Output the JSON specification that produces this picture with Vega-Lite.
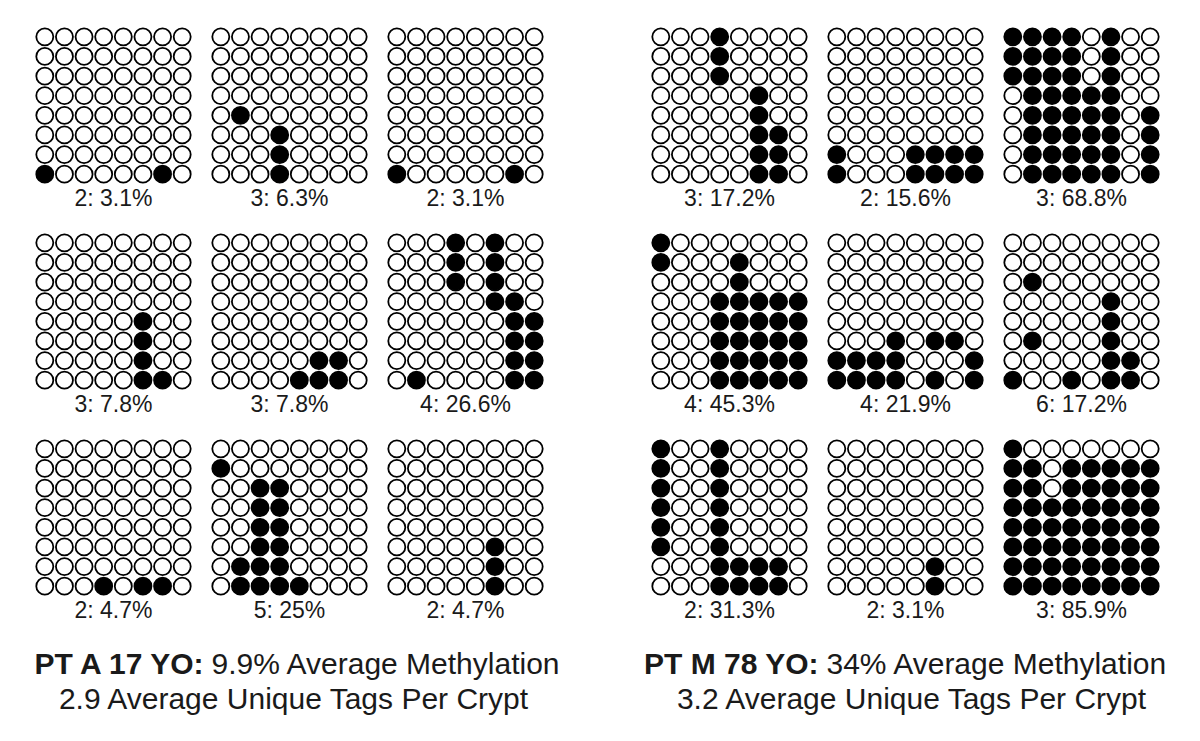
{
"$schema": "https://vega.github.io/schema/vega-lite/v6.json",
"padding": {"left": 31, "top": 24, "right": 0, "bottom": 0},
"background": "white",
"config": {"view": {"stroke": null}, "font": "Liberation Sans"},
"spacing": 81,
"datasets": {
"panels": [
{"g":"a","side":"A","key":"1|2: 3.1%"},{"g":"b","side":"A","key":"2|3: 6.3%"},{"g":"c","side":"A","key":"3|2: 3.1%"},
{"g":"d","side":"A","key":"4|3: 7.8%"},{"g":"e","side":"A","key":"5|3: 7.8%"},{"g":"f","side":"A","key":"6|4: 26.6%"},
{"g":"g","side":"A","key":"7|2: 4.7%"},{"g":"h","side":"A","key":"8|5: 25%"},{"g":"i","side":"A","key":"9|2: 4.7%"},
{"g":"j","side":"M","key":"1|3: 17.2%"},{"g":"k","side":"M","key":"2|2: 15.6%"},{"g":"l","side":"M","key":"3|3: 68.8%"},
{"g":"m","side":"M","key":"4|4: 45.3%"},{"g":"n","side":"M","key":"5|4: 21.9%"},{"g":"o","side":"M","key":"6|6: 17.2%"},
{"g":"p","side":"M","key":"7|2: 31.3%"},{"g":"q","side":"M","key":"8|2: 3.1%"},{"g":"r","side":"M","key":"9|3: 85.9%"}
],
"notes": [
{"side":"A","part":"b","line":1,"t":"PT A 17 YO:"},
{"side":"A","part":"n","line":1,"t":"9.9% Average Methylation"},
{"side":"A","part":"c","line":2,"t":"2.9 Average Unique Tags Per Crypt"},
{"side":"M","part":"b","line":1,"t":"PT M 78 YO:"},
{"side":"M","part":"n","line":1,"t":"34% Average Methylation"},
{"side":"M","part":"c","line":2,"t":"3.2 Average Unique Tags Per Crypt"}
],
"cells": [
{"g":"a","r":0,"c":0,"v":0},{"g":"a","r":0,"c":1,"v":0},{"g":"a","r":0,"c":2,"v":0},{"g":"a","r":0,"c":3,"v":0},{"g":"a","r":0,"c":4,"v":0},{"g":"a","r":0,"c":5,"v":0},{"g":"a","r":0,"c":6,"v":0},{"g":"a","r":0,"c":7,"v":0},
{"g":"a","r":1,"c":0,"v":0},{"g":"a","r":1,"c":1,"v":0},{"g":"a","r":1,"c":2,"v":0},{"g":"a","r":1,"c":3,"v":0},{"g":"a","r":1,"c":4,"v":0},{"g":"a","r":1,"c":5,"v":0},{"g":"a","r":1,"c":6,"v":0},{"g":"a","r":1,"c":7,"v":0},
{"g":"a","r":2,"c":0,"v":0},{"g":"a","r":2,"c":1,"v":0},{"g":"a","r":2,"c":2,"v":0},{"g":"a","r":2,"c":3,"v":0},{"g":"a","r":2,"c":4,"v":0},{"g":"a","r":2,"c":5,"v":0},{"g":"a","r":2,"c":6,"v":0},{"g":"a","r":2,"c":7,"v":0},
{"g":"a","r":3,"c":0,"v":0},{"g":"a","r":3,"c":1,"v":0},{"g":"a","r":3,"c":2,"v":0},{"g":"a","r":3,"c":3,"v":0},{"g":"a","r":3,"c":4,"v":0},{"g":"a","r":3,"c":5,"v":0},{"g":"a","r":3,"c":6,"v":0},{"g":"a","r":3,"c":7,"v":0},
{"g":"a","r":4,"c":0,"v":0},{"g":"a","r":4,"c":1,"v":0},{"g":"a","r":4,"c":2,"v":0},{"g":"a","r":4,"c":3,"v":0},{"g":"a","r":4,"c":4,"v":0},{"g":"a","r":4,"c":5,"v":0},{"g":"a","r":4,"c":6,"v":0},{"g":"a","r":4,"c":7,"v":0},
{"g":"a","r":5,"c":0,"v":0},{"g":"a","r":5,"c":1,"v":0},{"g":"a","r":5,"c":2,"v":0},{"g":"a","r":5,"c":3,"v":0},{"g":"a","r":5,"c":4,"v":0},{"g":"a","r":5,"c":5,"v":0},{"g":"a","r":5,"c":6,"v":0},{"g":"a","r":5,"c":7,"v":0},
{"g":"a","r":6,"c":0,"v":0},{"g":"a","r":6,"c":1,"v":0},{"g":"a","r":6,"c":2,"v":0},{"g":"a","r":6,"c":3,"v":0},{"g":"a","r":6,"c":4,"v":0},{"g":"a","r":6,"c":5,"v":0},{"g":"a","r":6,"c":6,"v":0},{"g":"a","r":6,"c":7,"v":0},
{"g":"a","r":7,"c":0,"v":1},{"g":"a","r":7,"c":1,"v":0},{"g":"a","r":7,"c":2,"v":0},{"g":"a","r":7,"c":3,"v":0},{"g":"a","r":7,"c":4,"v":0},{"g":"a","r":7,"c":5,"v":0},{"g":"a","r":7,"c":6,"v":1},{"g":"a","r":7,"c":7,"v":0},
{"g":"b","r":0,"c":0,"v":0},{"g":"b","r":0,"c":1,"v":0},{"g":"b","r":0,"c":2,"v":0},{"g":"b","r":0,"c":3,"v":0},{"g":"b","r":0,"c":4,"v":0},{"g":"b","r":0,"c":5,"v":0},{"g":"b","r":0,"c":6,"v":0},{"g":"b","r":0,"c":7,"v":0},
{"g":"b","r":1,"c":0,"v":0},{"g":"b","r":1,"c":1,"v":0},{"g":"b","r":1,"c":2,"v":0},{"g":"b","r":1,"c":3,"v":0},{"g":"b","r":1,"c":4,"v":0},{"g":"b","r":1,"c":5,"v":0},{"g":"b","r":1,"c":6,"v":0},{"g":"b","r":1,"c":7,"v":0},
{"g":"b","r":2,"c":0,"v":0},{"g":"b","r":2,"c":1,"v":0},{"g":"b","r":2,"c":2,"v":0},{"g":"b","r":2,"c":3,"v":0},{"g":"b","r":2,"c":4,"v":0},{"g":"b","r":2,"c":5,"v":0},{"g":"b","r":2,"c":6,"v":0},{"g":"b","r":2,"c":7,"v":0},
{"g":"b","r":3,"c":0,"v":0},{"g":"b","r":3,"c":1,"v":0},{"g":"b","r":3,"c":2,"v":0},{"g":"b","r":3,"c":3,"v":0},{"g":"b","r":3,"c":4,"v":0},{"g":"b","r":3,"c":5,"v":0},{"g":"b","r":3,"c":6,"v":0},{"g":"b","r":3,"c":7,"v":0},
{"g":"b","r":4,"c":0,"v":0},{"g":"b","r":4,"c":1,"v":1},{"g":"b","r":4,"c":2,"v":0},{"g":"b","r":4,"c":3,"v":0},{"g":"b","r":4,"c":4,"v":0},{"g":"b","r":4,"c":5,"v":0},{"g":"b","r":4,"c":6,"v":0},{"g":"b","r":4,"c":7,"v":0},
{"g":"b","r":5,"c":0,"v":0},{"g":"b","r":5,"c":1,"v":0},{"g":"b","r":5,"c":2,"v":0},{"g":"b","r":5,"c":3,"v":1},{"g":"b","r":5,"c":4,"v":0},{"g":"b","r":5,"c":5,"v":0},{"g":"b","r":5,"c":6,"v":0},{"g":"b","r":5,"c":7,"v":0},
{"g":"b","r":6,"c":0,"v":0},{"g":"b","r":6,"c":1,"v":0},{"g":"b","r":6,"c":2,"v":0},{"g":"b","r":6,"c":3,"v":1},{"g":"b","r":6,"c":4,"v":0},{"g":"b","r":6,"c":5,"v":0},{"g":"b","r":6,"c":6,"v":0},{"g":"b","r":6,"c":7,"v":0},
{"g":"b","r":7,"c":0,"v":0},{"g":"b","r":7,"c":1,"v":0},{"g":"b","r":7,"c":2,"v":0},{"g":"b","r":7,"c":3,"v":1},{"g":"b","r":7,"c":4,"v":0},{"g":"b","r":7,"c":5,"v":0},{"g":"b","r":7,"c":6,"v":0},{"g":"b","r":7,"c":7,"v":0},
{"g":"c","r":0,"c":0,"v":0},{"g":"c","r":0,"c":1,"v":0},{"g":"c","r":0,"c":2,"v":0},{"g":"c","r":0,"c":3,"v":0},{"g":"c","r":0,"c":4,"v":0},{"g":"c","r":0,"c":5,"v":0},{"g":"c","r":0,"c":6,"v":0},{"g":"c","r":0,"c":7,"v":0},
{"g":"c","r":1,"c":0,"v":0},{"g":"c","r":1,"c":1,"v":0},{"g":"c","r":1,"c":2,"v":0},{"g":"c","r":1,"c":3,"v":0},{"g":"c","r":1,"c":4,"v":0},{"g":"c","r":1,"c":5,"v":0},{"g":"c","r":1,"c":6,"v":0},{"g":"c","r":1,"c":7,"v":0},
{"g":"c","r":2,"c":0,"v":0},{"g":"c","r":2,"c":1,"v":0},{"g":"c","r":2,"c":2,"v":0},{"g":"c","r":2,"c":3,"v":0},{"g":"c","r":2,"c":4,"v":0},{"g":"c","r":2,"c":5,"v":0},{"g":"c","r":2,"c":6,"v":0},{"g":"c","r":2,"c":7,"v":0},
{"g":"c","r":3,"c":0,"v":0},{"g":"c","r":3,"c":1,"v":0},{"g":"c","r":3,"c":2,"v":0},{"g":"c","r":3,"c":3,"v":0},{"g":"c","r":3,"c":4,"v":0},{"g":"c","r":3,"c":5,"v":0},{"g":"c","r":3,"c":6,"v":0},{"g":"c","r":3,"c":7,"v":0},
{"g":"c","r":4,"c":0,"v":0},{"g":"c","r":4,"c":1,"v":0},{"g":"c","r":4,"c":2,"v":0},{"g":"c","r":4,"c":3,"v":0},{"g":"c","r":4,"c":4,"v":0},{"g":"c","r":4,"c":5,"v":0},{"g":"c","r":4,"c":6,"v":0},{"g":"c","r":4,"c":7,"v":0},
{"g":"c","r":5,"c":0,"v":0},{"g":"c","r":5,"c":1,"v":0},{"g":"c","r":5,"c":2,"v":0},{"g":"c","r":5,"c":3,"v":0},{"g":"c","r":5,"c":4,"v":0},{"g":"c","r":5,"c":5,"v":0},{"g":"c","r":5,"c":6,"v":0},{"g":"c","r":5,"c":7,"v":0},
{"g":"c","r":6,"c":0,"v":0},{"g":"c","r":6,"c":1,"v":0},{"g":"c","r":6,"c":2,"v":0},{"g":"c","r":6,"c":3,"v":0},{"g":"c","r":6,"c":4,"v":0},{"g":"c","r":6,"c":5,"v":0},{"g":"c","r":6,"c":6,"v":0},{"g":"c","r":6,"c":7,"v":0},
{"g":"c","r":7,"c":0,"v":1},{"g":"c","r":7,"c":1,"v":0},{"g":"c","r":7,"c":2,"v":0},{"g":"c","r":7,"c":3,"v":0},{"g":"c","r":7,"c":4,"v":0},{"g":"c","r":7,"c":5,"v":0},{"g":"c","r":7,"c":6,"v":1},{"g":"c","r":7,"c":7,"v":0},
{"g":"d","r":0,"c":0,"v":0},{"g":"d","r":0,"c":1,"v":0},{"g":"d","r":0,"c":2,"v":0},{"g":"d","r":0,"c":3,"v":0},{"g":"d","r":0,"c":4,"v":0},{"g":"d","r":0,"c":5,"v":0},{"g":"d","r":0,"c":6,"v":0},{"g":"d","r":0,"c":7,"v":0},
{"g":"d","r":1,"c":0,"v":0},{"g":"d","r":1,"c":1,"v":0},{"g":"d","r":1,"c":2,"v":0},{"g":"d","r":1,"c":3,"v":0},{"g":"d","r":1,"c":4,"v":0},{"g":"d","r":1,"c":5,"v":0},{"g":"d","r":1,"c":6,"v":0},{"g":"d","r":1,"c":7,"v":0},
{"g":"d","r":2,"c":0,"v":0},{"g":"d","r":2,"c":1,"v":0},{"g":"d","r":2,"c":2,"v":0},{"g":"d","r":2,"c":3,"v":0},{"g":"d","r":2,"c":4,"v":0},{"g":"d","r":2,"c":5,"v":0},{"g":"d","r":2,"c":6,"v":0},{"g":"d","r":2,"c":7,"v":0},
{"g":"d","r":3,"c":0,"v":0},{"g":"d","r":3,"c":1,"v":0},{"g":"d","r":3,"c":2,"v":0},{"g":"d","r":3,"c":3,"v":0},{"g":"d","r":3,"c":4,"v":0},{"g":"d","r":3,"c":5,"v":0},{"g":"d","r":3,"c":6,"v":0},{"g":"d","r":3,"c":7,"v":0},
{"g":"d","r":4,"c":0,"v":0},{"g":"d","r":4,"c":1,"v":0},{"g":"d","r":4,"c":2,"v":0},{"g":"d","r":4,"c":3,"v":0},{"g":"d","r":4,"c":4,"v":0},{"g":"d","r":4,"c":5,"v":1},{"g":"d","r":4,"c":6,"v":0},{"g":"d","r":4,"c":7,"v":0},
{"g":"d","r":5,"c":0,"v":0},{"g":"d","r":5,"c":1,"v":0},{"g":"d","r":5,"c":2,"v":0},{"g":"d","r":5,"c":3,"v":0},{"g":"d","r":5,"c":4,"v":0},{"g":"d","r":5,"c":5,"v":1},{"g":"d","r":5,"c":6,"v":0},{"g":"d","r":5,"c":7,"v":0},
{"g":"d","r":6,"c":0,"v":0},{"g":"d","r":6,"c":1,"v":0},{"g":"d","r":6,"c":2,"v":0},{"g":"d","r":6,"c":3,"v":0},{"g":"d","r":6,"c":4,"v":0},{"g":"d","r":6,"c":5,"v":1},{"g":"d","r":6,"c":6,"v":0},{"g":"d","r":6,"c":7,"v":0},
{"g":"d","r":7,"c":0,"v":0},{"g":"d","r":7,"c":1,"v":0},{"g":"d","r":7,"c":2,"v":0},{"g":"d","r":7,"c":3,"v":0},{"g":"d","r":7,"c":4,"v":0},{"g":"d","r":7,"c":5,"v":1},{"g":"d","r":7,"c":6,"v":1},{"g":"d","r":7,"c":7,"v":0},
{"g":"e","r":0,"c":0,"v":0},{"g":"e","r":0,"c":1,"v":0},{"g":"e","r":0,"c":2,"v":0},{"g":"e","r":0,"c":3,"v":0},{"g":"e","r":0,"c":4,"v":0},{"g":"e","r":0,"c":5,"v":0},{"g":"e","r":0,"c":6,"v":0},{"g":"e","r":0,"c":7,"v":0},
{"g":"e","r":1,"c":0,"v":0},{"g":"e","r":1,"c":1,"v":0},{"g":"e","r":1,"c":2,"v":0},{"g":"e","r":1,"c":3,"v":0},{"g":"e","r":1,"c":4,"v":0},{"g":"e","r":1,"c":5,"v":0},{"g":"e","r":1,"c":6,"v":0},{"g":"e","r":1,"c":7,"v":0},
{"g":"e","r":2,"c":0,"v":0},{"g":"e","r":2,"c":1,"v":0},{"g":"e","r":2,"c":2,"v":0},{"g":"e","r":2,"c":3,"v":0},{"g":"e","r":2,"c":4,"v":0},{"g":"e","r":2,"c":5,"v":0},{"g":"e","r":2,"c":6,"v":0},{"g":"e","r":2,"c":7,"v":0},
{"g":"e","r":3,"c":0,"v":0},{"g":"e","r":3,"c":1,"v":0},{"g":"e","r":3,"c":2,"v":0},{"g":"e","r":3,"c":3,"v":0},{"g":"e","r":3,"c":4,"v":0},{"g":"e","r":3,"c":5,"v":0},{"g":"e","r":3,"c":6,"v":0},{"g":"e","r":3,"c":7,"v":0},
{"g":"e","r":4,"c":0,"v":0},{"g":"e","r":4,"c":1,"v":0},{"g":"e","r":4,"c":2,"v":0},{"g":"e","r":4,"c":3,"v":0},{"g":"e","r":4,"c":4,"v":0},{"g":"e","r":4,"c":5,"v":0},{"g":"e","r":4,"c":6,"v":0},{"g":"e","r":4,"c":7,"v":0},
{"g":"e","r":5,"c":0,"v":0},{"g":"e","r":5,"c":1,"v":0},{"g":"e","r":5,"c":2,"v":0},{"g":"e","r":5,"c":3,"v":0},{"g":"e","r":5,"c":4,"v":0},{"g":"e","r":5,"c":5,"v":0},{"g":"e","r":5,"c":6,"v":0},{"g":"e","r":5,"c":7,"v":0},
{"g":"e","r":6,"c":0,"v":0},{"g":"e","r":6,"c":1,"v":0},{"g":"e","r":6,"c":2,"v":0},{"g":"e","r":6,"c":3,"v":0},{"g":"e","r":6,"c":4,"v":0},{"g":"e","r":6,"c":5,"v":1},{"g":"e","r":6,"c":6,"v":1},{"g":"e","r":6,"c":7,"v":0},
{"g":"e","r":7,"c":0,"v":0},{"g":"e","r":7,"c":1,"v":0},{"g":"e","r":7,"c":2,"v":0},{"g":"e","r":7,"c":3,"v":0},{"g":"e","r":7,"c":4,"v":1},{"g":"e","r":7,"c":5,"v":1},{"g":"e","r":7,"c":6,"v":1},{"g":"e","r":7,"c":7,"v":0},
{"g":"f","r":0,"c":0,"v":0},{"g":"f","r":0,"c":1,"v":0},{"g":"f","r":0,"c":2,"v":0},{"g":"f","r":0,"c":3,"v":1},{"g":"f","r":0,"c":4,"v":0},{"g":"f","r":0,"c":5,"v":1},{"g":"f","r":0,"c":6,"v":0},{"g":"f","r":0,"c":7,"v":0},
{"g":"f","r":1,"c":0,"v":0},{"g":"f","r":1,"c":1,"v":0},{"g":"f","r":1,"c":2,"v":0},{"g":"f","r":1,"c":3,"v":1},{"g":"f","r":1,"c":4,"v":0},{"g":"f","r":1,"c":5,"v":1},{"g":"f","r":1,"c":6,"v":0},{"g":"f","r":1,"c":7,"v":0},
{"g":"f","r":2,"c":0,"v":0},{"g":"f","r":2,"c":1,"v":0},{"g":"f","r":2,"c":2,"v":0},{"g":"f","r":2,"c":3,"v":1},{"g":"f","r":2,"c":4,"v":0},{"g":"f","r":2,"c":5,"v":1},{"g":"f","r":2,"c":6,"v":0},{"g":"f","r":2,"c":7,"v":0},
{"g":"f","r":3,"c":0,"v":0},{"g":"f","r":3,"c":1,"v":0},{"g":"f","r":3,"c":2,"v":0},{"g":"f","r":3,"c":3,"v":0},{"g":"f","r":3,"c":4,"v":0},{"g":"f","r":3,"c":5,"v":1},{"g":"f","r":3,"c":6,"v":1},{"g":"f","r":3,"c":7,"v":0},
{"g":"f","r":4,"c":0,"v":0},{"g":"f","r":4,"c":1,"v":0},{"g":"f","r":4,"c":2,"v":0},{"g":"f","r":4,"c":3,"v":0},{"g":"f","r":4,"c":4,"v":0},{"g":"f","r":4,"c":5,"v":0},{"g":"f","r":4,"c":6,"v":1},{"g":"f","r":4,"c":7,"v":1},
{"g":"f","r":5,"c":0,"v":0},{"g":"f","r":5,"c":1,"v":0},{"g":"f","r":5,"c":2,"v":0},{"g":"f","r":5,"c":3,"v":0},{"g":"f","r":5,"c":4,"v":0},{"g":"f","r":5,"c":5,"v":0},{"g":"f","r":5,"c":6,"v":1},{"g":"f","r":5,"c":7,"v":1},
{"g":"f","r":6,"c":0,"v":0},{"g":"f","r":6,"c":1,"v":0},{"g":"f","r":6,"c":2,"v":0},{"g":"f","r":6,"c":3,"v":0},{"g":"f","r":6,"c":4,"v":0},{"g":"f","r":6,"c":5,"v":0},{"g":"f","r":6,"c":6,"v":1},{"g":"f","r":6,"c":7,"v":1},
{"g":"f","r":7,"c":0,"v":0},{"g":"f","r":7,"c":1,"v":1},{"g":"f","r":7,"c":2,"v":0},{"g":"f","r":7,"c":3,"v":0},{"g":"f","r":7,"c":4,"v":0},{"g":"f","r":7,"c":5,"v":0},{"g":"f","r":7,"c":6,"v":1},{"g":"f","r":7,"c":7,"v":1},
{"g":"g","r":0,"c":0,"v":0},{"g":"g","r":0,"c":1,"v":0},{"g":"g","r":0,"c":2,"v":0},{"g":"g","r":0,"c":3,"v":0},{"g":"g","r":0,"c":4,"v":0},{"g":"g","r":0,"c":5,"v":0},{"g":"g","r":0,"c":6,"v":0},{"g":"g","r":0,"c":7,"v":0},
{"g":"g","r":1,"c":0,"v":0},{"g":"g","r":1,"c":1,"v":0},{"g":"g","r":1,"c":2,"v":0},{"g":"g","r":1,"c":3,"v":0},{"g":"g","r":1,"c":4,"v":0},{"g":"g","r":1,"c":5,"v":0},{"g":"g","r":1,"c":6,"v":0},{"g":"g","r":1,"c":7,"v":0},
{"g":"g","r":2,"c":0,"v":0},{"g":"g","r":2,"c":1,"v":0},{"g":"g","r":2,"c":2,"v":0},{"g":"g","r":2,"c":3,"v":0},{"g":"g","r":2,"c":4,"v":0},{"g":"g","r":2,"c":5,"v":0},{"g":"g","r":2,"c":6,"v":0},{"g":"g","r":2,"c":7,"v":0},
{"g":"g","r":3,"c":0,"v":0},{"g":"g","r":3,"c":1,"v":0},{"g":"g","r":3,"c":2,"v":0},{"g":"g","r":3,"c":3,"v":0},{"g":"g","r":3,"c":4,"v":0},{"g":"g","r":3,"c":5,"v":0},{"g":"g","r":3,"c":6,"v":0},{"g":"g","r":3,"c":7,"v":0},
{"g":"g","r":4,"c":0,"v":0},{"g":"g","r":4,"c":1,"v":0},{"g":"g","r":4,"c":2,"v":0},{"g":"g","r":4,"c":3,"v":0},{"g":"g","r":4,"c":4,"v":0},{"g":"g","r":4,"c":5,"v":0},{"g":"g","r":4,"c":6,"v":0},{"g":"g","r":4,"c":7,"v":0},
{"g":"g","r":5,"c":0,"v":0},{"g":"g","r":5,"c":1,"v":0},{"g":"g","r":5,"c":2,"v":0},{"g":"g","r":5,"c":3,"v":0},{"g":"g","r":5,"c":4,"v":0},{"g":"g","r":5,"c":5,"v":0},{"g":"g","r":5,"c":6,"v":0},{"g":"g","r":5,"c":7,"v":0},
{"g":"g","r":6,"c":0,"v":0},{"g":"g","r":6,"c":1,"v":0},{"g":"g","r":6,"c":2,"v":0},{"g":"g","r":6,"c":3,"v":0},{"g":"g","r":6,"c":4,"v":0},{"g":"g","r":6,"c":5,"v":0},{"g":"g","r":6,"c":6,"v":0},{"g":"g","r":6,"c":7,"v":0},
{"g":"g","r":7,"c":0,"v":0},{"g":"g","r":7,"c":1,"v":0},{"g":"g","r":7,"c":2,"v":0},{"g":"g","r":7,"c":3,"v":1},{"g":"g","r":7,"c":4,"v":0},{"g":"g","r":7,"c":5,"v":1},{"g":"g","r":7,"c":6,"v":1},{"g":"g","r":7,"c":7,"v":0},
{"g":"h","r":0,"c":0,"v":0},{"g":"h","r":0,"c":1,"v":0},{"g":"h","r":0,"c":2,"v":0},{"g":"h","r":0,"c":3,"v":0},{"g":"h","r":0,"c":4,"v":0},{"g":"h","r":0,"c":5,"v":0},{"g":"h","r":0,"c":6,"v":0},{"g":"h","r":0,"c":7,"v":0},
{"g":"h","r":1,"c":0,"v":1},{"g":"h","r":1,"c":1,"v":0},{"g":"h","r":1,"c":2,"v":0},{"g":"h","r":1,"c":3,"v":0},{"g":"h","r":1,"c":4,"v":0},{"g":"h","r":1,"c":5,"v":0},{"g":"h","r":1,"c":6,"v":0},{"g":"h","r":1,"c":7,"v":0},
{"g":"h","r":2,"c":0,"v":0},{"g":"h","r":2,"c":1,"v":0},{"g":"h","r":2,"c":2,"v":1},{"g":"h","r":2,"c":3,"v":1},{"g":"h","r":2,"c":4,"v":0},{"g":"h","r":2,"c":5,"v":0},{"g":"h","r":2,"c":6,"v":0},{"g":"h","r":2,"c":7,"v":0},
{"g":"h","r":3,"c":0,"v":0},{"g":"h","r":3,"c":1,"v":0},{"g":"h","r":3,"c":2,"v":1},{"g":"h","r":3,"c":3,"v":1},{"g":"h","r":3,"c":4,"v":0},{"g":"h","r":3,"c":5,"v":0},{"g":"h","r":3,"c":6,"v":0},{"g":"h","r":3,"c":7,"v":0},
{"g":"h","r":4,"c":0,"v":0},{"g":"h","r":4,"c":1,"v":0},{"g":"h","r":4,"c":2,"v":1},{"g":"h","r":4,"c":3,"v":1},{"g":"h","r":4,"c":4,"v":0},{"g":"h","r":4,"c":5,"v":0},{"g":"h","r":4,"c":6,"v":0},{"g":"h","r":4,"c":7,"v":0},
{"g":"h","r":5,"c":0,"v":0},{"g":"h","r":5,"c":1,"v":0},{"g":"h","r":5,"c":2,"v":1},{"g":"h","r":5,"c":3,"v":1},{"g":"h","r":5,"c":4,"v":0},{"g":"h","r":5,"c":5,"v":0},{"g":"h","r":5,"c":6,"v":0},{"g":"h","r":5,"c":7,"v":0},
{"g":"h","r":6,"c":0,"v":0},{"g":"h","r":6,"c":1,"v":1},{"g":"h","r":6,"c":2,"v":1},{"g":"h","r":6,"c":3,"v":1},{"g":"h","r":6,"c":4,"v":0},{"g":"h","r":6,"c":5,"v":0},{"g":"h","r":6,"c":6,"v":0},{"g":"h","r":6,"c":7,"v":0},
{"g":"h","r":7,"c":0,"v":0},{"g":"h","r":7,"c":1,"v":1},{"g":"h","r":7,"c":2,"v":1},{"g":"h","r":7,"c":3,"v":1},{"g":"h","r":7,"c":4,"v":1},{"g":"h","r":7,"c":5,"v":0},{"g":"h","r":7,"c":6,"v":0},{"g":"h","r":7,"c":7,"v":0},
{"g":"i","r":0,"c":0,"v":0},{"g":"i","r":0,"c":1,"v":0},{"g":"i","r":0,"c":2,"v":0},{"g":"i","r":0,"c":3,"v":0},{"g":"i","r":0,"c":4,"v":0},{"g":"i","r":0,"c":5,"v":0},{"g":"i","r":0,"c":6,"v":0},{"g":"i","r":0,"c":7,"v":0},
{"g":"i","r":1,"c":0,"v":0},{"g":"i","r":1,"c":1,"v":0},{"g":"i","r":1,"c":2,"v":0},{"g":"i","r":1,"c":3,"v":0},{"g":"i","r":1,"c":4,"v":0},{"g":"i","r":1,"c":5,"v":0},{"g":"i","r":1,"c":6,"v":0},{"g":"i","r":1,"c":7,"v":0},
{"g":"i","r":2,"c":0,"v":0},{"g":"i","r":2,"c":1,"v":0},{"g":"i","r":2,"c":2,"v":0},{"g":"i","r":2,"c":3,"v":0},{"g":"i","r":2,"c":4,"v":0},{"g":"i","r":2,"c":5,"v":0},{"g":"i","r":2,"c":6,"v":0},{"g":"i","r":2,"c":7,"v":0},
{"g":"i","r":3,"c":0,"v":0},{"g":"i","r":3,"c":1,"v":0},{"g":"i","r":3,"c":2,"v":0},{"g":"i","r":3,"c":3,"v":0},{"g":"i","r":3,"c":4,"v":0},{"g":"i","r":3,"c":5,"v":0},{"g":"i","r":3,"c":6,"v":0},{"g":"i","r":3,"c":7,"v":0},
{"g":"i","r":4,"c":0,"v":0},{"g":"i","r":4,"c":1,"v":0},{"g":"i","r":4,"c":2,"v":0},{"g":"i","r":4,"c":3,"v":0},{"g":"i","r":4,"c":4,"v":0},{"g":"i","r":4,"c":5,"v":0},{"g":"i","r":4,"c":6,"v":0},{"g":"i","r":4,"c":7,"v":0},
{"g":"i","r":5,"c":0,"v":0},{"g":"i","r":5,"c":1,"v":0},{"g":"i","r":5,"c":2,"v":0},{"g":"i","r":5,"c":3,"v":0},{"g":"i","r":5,"c":4,"v":0},{"g":"i","r":5,"c":5,"v":1},{"g":"i","r":5,"c":6,"v":0},{"g":"i","r":5,"c":7,"v":0},
{"g":"i","r":6,"c":0,"v":0},{"g":"i","r":6,"c":1,"v":0},{"g":"i","r":6,"c":2,"v":0},{"g":"i","r":6,"c":3,"v":0},{"g":"i","r":6,"c":4,"v":0},{"g":"i","r":6,"c":5,"v":1},{"g":"i","r":6,"c":6,"v":0},{"g":"i","r":6,"c":7,"v":0},
{"g":"i","r":7,"c":0,"v":0},{"g":"i","r":7,"c":1,"v":0},{"g":"i","r":7,"c":2,"v":0},{"g":"i","r":7,"c":3,"v":0},{"g":"i","r":7,"c":4,"v":0},{"g":"i","r":7,"c":5,"v":1},{"g":"i","r":7,"c":6,"v":0},{"g":"i","r":7,"c":7,"v":0},
{"g":"j","r":0,"c":0,"v":0},{"g":"j","r":0,"c":1,"v":0},{"g":"j","r":0,"c":2,"v":0},{"g":"j","r":0,"c":3,"v":1},{"g":"j","r":0,"c":4,"v":0},{"g":"j","r":0,"c":5,"v":0},{"g":"j","r":0,"c":6,"v":0},{"g":"j","r":0,"c":7,"v":0},
{"g":"j","r":1,"c":0,"v":0},{"g":"j","r":1,"c":1,"v":0},{"g":"j","r":1,"c":2,"v":0},{"g":"j","r":1,"c":3,"v":1},{"g":"j","r":1,"c":4,"v":0},{"g":"j","r":1,"c":5,"v":0},{"g":"j","r":1,"c":6,"v":0},{"g":"j","r":1,"c":7,"v":0},
{"g":"j","r":2,"c":0,"v":0},{"g":"j","r":2,"c":1,"v":0},{"g":"j","r":2,"c":2,"v":0},{"g":"j","r":2,"c":3,"v":1},{"g":"j","r":2,"c":4,"v":0},{"g":"j","r":2,"c":5,"v":0},{"g":"j","r":2,"c":6,"v":0},{"g":"j","r":2,"c":7,"v":0},
{"g":"j","r":3,"c":0,"v":0},{"g":"j","r":3,"c":1,"v":0},{"g":"j","r":3,"c":2,"v":0},{"g":"j","r":3,"c":3,"v":0},{"g":"j","r":3,"c":4,"v":0},{"g":"j","r":3,"c":5,"v":1},{"g":"j","r":3,"c":6,"v":0},{"g":"j","r":3,"c":7,"v":0},
{"g":"j","r":4,"c":0,"v":0},{"g":"j","r":4,"c":1,"v":0},{"g":"j","r":4,"c":2,"v":0},{"g":"j","r":4,"c":3,"v":0},{"g":"j","r":4,"c":4,"v":0},{"g":"j","r":4,"c":5,"v":1},{"g":"j","r":4,"c":6,"v":0},{"g":"j","r":4,"c":7,"v":0},
{"g":"j","r":5,"c":0,"v":0},{"g":"j","r":5,"c":1,"v":0},{"g":"j","r":5,"c":2,"v":0},{"g":"j","r":5,"c":3,"v":0},{"g":"j","r":5,"c":4,"v":0},{"g":"j","r":5,"c":5,"v":1},{"g":"j","r":5,"c":6,"v":1},{"g":"j","r":5,"c":7,"v":0},
{"g":"j","r":6,"c":0,"v":0},{"g":"j","r":6,"c":1,"v":0},{"g":"j","r":6,"c":2,"v":0},{"g":"j","r":6,"c":3,"v":0},{"g":"j","r":6,"c":4,"v":0},{"g":"j","r":6,"c":5,"v":1},{"g":"j","r":6,"c":6,"v":1},{"g":"j","r":6,"c":7,"v":0},
{"g":"j","r":7,"c":0,"v":0},{"g":"j","r":7,"c":1,"v":0},{"g":"j","r":7,"c":2,"v":0},{"g":"j","r":7,"c":3,"v":0},{"g":"j","r":7,"c":4,"v":0},{"g":"j","r":7,"c":5,"v":1},{"g":"j","r":7,"c":6,"v":1},{"g":"j","r":7,"c":7,"v":0},
{"g":"k","r":0,"c":0,"v":0},{"g":"k","r":0,"c":1,"v":0},{"g":"k","r":0,"c":2,"v":0},{"g":"k","r":0,"c":3,"v":0},{"g":"k","r":0,"c":4,"v":0},{"g":"k","r":0,"c":5,"v":0},{"g":"k","r":0,"c":6,"v":0},{"g":"k","r":0,"c":7,"v":0},
{"g":"k","r":1,"c":0,"v":0},{"g":"k","r":1,"c":1,"v":0},{"g":"k","r":1,"c":2,"v":0},{"g":"k","r":1,"c":3,"v":0},{"g":"k","r":1,"c":4,"v":0},{"g":"k","r":1,"c":5,"v":0},{"g":"k","r":1,"c":6,"v":0},{"g":"k","r":1,"c":7,"v":0},
{"g":"k","r":2,"c":0,"v":0},{"g":"k","r":2,"c":1,"v":0},{"g":"k","r":2,"c":2,"v":0},{"g":"k","r":2,"c":3,"v":0},{"g":"k","r":2,"c":4,"v":0},{"g":"k","r":2,"c":5,"v":0},{"g":"k","r":2,"c":6,"v":0},{"g":"k","r":2,"c":7,"v":0},
{"g":"k","r":3,"c":0,"v":0},{"g":"k","r":3,"c":1,"v":0},{"g":"k","r":3,"c":2,"v":0},{"g":"k","r":3,"c":3,"v":0},{"g":"k","r":3,"c":4,"v":0},{"g":"k","r":3,"c":5,"v":0},{"g":"k","r":3,"c":6,"v":0},{"g":"k","r":3,"c":7,"v":0},
{"g":"k","r":4,"c":0,"v":0},{"g":"k","r":4,"c":1,"v":0},{"g":"k","r":4,"c":2,"v":0},{"g":"k","r":4,"c":3,"v":0},{"g":"k","r":4,"c":4,"v":0},{"g":"k","r":4,"c":5,"v":0},{"g":"k","r":4,"c":6,"v":0},{"g":"k","r":4,"c":7,"v":0},
{"g":"k","r":5,"c":0,"v":0},{"g":"k","r":5,"c":1,"v":0},{"g":"k","r":5,"c":2,"v":0},{"g":"k","r":5,"c":3,"v":0},{"g":"k","r":5,"c":4,"v":0},{"g":"k","r":5,"c":5,"v":0},{"g":"k","r":5,"c":6,"v":0},{"g":"k","r":5,"c":7,"v":0},
{"g":"k","r":6,"c":0,"v":1},{"g":"k","r":6,"c":1,"v":0},{"g":"k","r":6,"c":2,"v":0},{"g":"k","r":6,"c":3,"v":0},{"g":"k","r":6,"c":4,"v":1},{"g":"k","r":6,"c":5,"v":1},{"g":"k","r":6,"c":6,"v":1},{"g":"k","r":6,"c":7,"v":1},
{"g":"k","r":7,"c":0,"v":1},{"g":"k","r":7,"c":1,"v":0},{"g":"k","r":7,"c":2,"v":0},{"g":"k","r":7,"c":3,"v":0},{"g":"k","r":7,"c":4,"v":1},{"g":"k","r":7,"c":5,"v":1},{"g":"k","r":7,"c":6,"v":1},{"g":"k","r":7,"c":7,"v":1},
{"g":"l","r":0,"c":0,"v":1},{"g":"l","r":0,"c":1,"v":1},{"g":"l","r":0,"c":2,"v":1},{"g":"l","r":0,"c":3,"v":1},{"g":"l","r":0,"c":4,"v":0},{"g":"l","r":0,"c":5,"v":1},{"g":"l","r":0,"c":6,"v":0},{"g":"l","r":0,"c":7,"v":0},
{"g":"l","r":1,"c":0,"v":1},{"g":"l","r":1,"c":1,"v":1},{"g":"l","r":1,"c":2,"v":1},{"g":"l","r":1,"c":3,"v":1},{"g":"l","r":1,"c":4,"v":0},{"g":"l","r":1,"c":5,"v":1},{"g":"l","r":1,"c":6,"v":0},{"g":"l","r":1,"c":7,"v":0},
{"g":"l","r":2,"c":0,"v":1},{"g":"l","r":2,"c":1,"v":1},{"g":"l","r":2,"c":2,"v":1},{"g":"l","r":2,"c":3,"v":1},{"g":"l","r":2,"c":4,"v":0},{"g":"l","r":2,"c":5,"v":1},{"g":"l","r":2,"c":6,"v":0},{"g":"l","r":2,"c":7,"v":0},
{"g":"l","r":3,"c":0,"v":0},{"g":"l","r":3,"c":1,"v":1},{"g":"l","r":3,"c":2,"v":1},{"g":"l","r":3,"c":3,"v":1},{"g":"l","r":3,"c":4,"v":1},{"g":"l","r":3,"c":5,"v":1},{"g":"l","r":3,"c":6,"v":0},{"g":"l","r":3,"c":7,"v":0},
{"g":"l","r":4,"c":0,"v":0},{"g":"l","r":4,"c":1,"v":1},{"g":"l","r":4,"c":2,"v":1},{"g":"l","r":4,"c":3,"v":1},{"g":"l","r":4,"c":4,"v":1},{"g":"l","r":4,"c":5,"v":1},{"g":"l","r":4,"c":6,"v":0},{"g":"l","r":4,"c":7,"v":1},
{"g":"l","r":5,"c":0,"v":0},{"g":"l","r":5,"c":1,"v":1},{"g":"l","r":5,"c":2,"v":1},{"g":"l","r":5,"c":3,"v":1},{"g":"l","r":5,"c":4,"v":1},{"g":"l","r":5,"c":5,"v":1},{"g":"l","r":5,"c":6,"v":0},{"g":"l","r":5,"c":7,"v":1},
{"g":"l","r":6,"c":0,"v":0},{"g":"l","r":6,"c":1,"v":1},{"g":"l","r":6,"c":2,"v":1},{"g":"l","r":6,"c":3,"v":1},{"g":"l","r":6,"c":4,"v":1},{"g":"l","r":6,"c":5,"v":1},{"g":"l","r":6,"c":6,"v":0},{"g":"l","r":6,"c":7,"v":1},
{"g":"l","r":7,"c":0,"v":0},{"g":"l","r":7,"c":1,"v":1},{"g":"l","r":7,"c":2,"v":1},{"g":"l","r":7,"c":3,"v":1},{"g":"l","r":7,"c":4,"v":1},{"g":"l","r":7,"c":5,"v":1},{"g":"l","r":7,"c":6,"v":0},{"g":"l","r":7,"c":7,"v":1},
{"g":"m","r":0,"c":0,"v":1},{"g":"m","r":0,"c":1,"v":0},{"g":"m","r":0,"c":2,"v":0},{"g":"m","r":0,"c":3,"v":0},{"g":"m","r":0,"c":4,"v":0},{"g":"m","r":0,"c":5,"v":0},{"g":"m","r":0,"c":6,"v":0},{"g":"m","r":0,"c":7,"v":0},
{"g":"m","r":1,"c":0,"v":1},{"g":"m","r":1,"c":1,"v":0},{"g":"m","r":1,"c":2,"v":0},{"g":"m","r":1,"c":3,"v":0},{"g":"m","r":1,"c":4,"v":1},{"g":"m","r":1,"c":5,"v":0},{"g":"m","r":1,"c":6,"v":0},{"g":"m","r":1,"c":7,"v":0},
{"g":"m","r":2,"c":0,"v":0},{"g":"m","r":2,"c":1,"v":0},{"g":"m","r":2,"c":2,"v":0},{"g":"m","r":2,"c":3,"v":0},{"g":"m","r":2,"c":4,"v":1},{"g":"m","r":2,"c":5,"v":0},{"g":"m","r":2,"c":6,"v":0},{"g":"m","r":2,"c":7,"v":0},
{"g":"m","r":3,"c":0,"v":0},{"g":"m","r":3,"c":1,"v":0},{"g":"m","r":3,"c":2,"v":0},{"g":"m","r":3,"c":3,"v":1},{"g":"m","r":3,"c":4,"v":1},{"g":"m","r":3,"c":5,"v":1},{"g":"m","r":3,"c":6,"v":1},{"g":"m","r":3,"c":7,"v":1},
{"g":"m","r":4,"c":0,"v":0},{"g":"m","r":4,"c":1,"v":0},{"g":"m","r":4,"c":2,"v":0},{"g":"m","r":4,"c":3,"v":1},{"g":"m","r":4,"c":4,"v":1},{"g":"m","r":4,"c":5,"v":1},{"g":"m","r":4,"c":6,"v":1},{"g":"m","r":4,"c":7,"v":1},
{"g":"m","r":5,"c":0,"v":0},{"g":"m","r":5,"c":1,"v":0},{"g":"m","r":5,"c":2,"v":0},{"g":"m","r":5,"c":3,"v":1},{"g":"m","r":5,"c":4,"v":1},{"g":"m","r":5,"c":5,"v":1},{"g":"m","r":5,"c":6,"v":1},{"g":"m","r":5,"c":7,"v":1},
{"g":"m","r":6,"c":0,"v":0},{"g":"m","r":6,"c":1,"v":0},{"g":"m","r":6,"c":2,"v":0},{"g":"m","r":6,"c":3,"v":1},{"g":"m","r":6,"c":4,"v":1},{"g":"m","r":6,"c":5,"v":1},{"g":"m","r":6,"c":6,"v":1},{"g":"m","r":6,"c":7,"v":1},
{"g":"m","r":7,"c":0,"v":0},{"g":"m","r":7,"c":1,"v":0},{"g":"m","r":7,"c":2,"v":0},{"g":"m","r":7,"c":3,"v":1},{"g":"m","r":7,"c":4,"v":1},{"g":"m","r":7,"c":5,"v":1},{"g":"m","r":7,"c":6,"v":1},{"g":"m","r":7,"c":7,"v":1},
{"g":"n","r":0,"c":0,"v":0},{"g":"n","r":0,"c":1,"v":0},{"g":"n","r":0,"c":2,"v":0},{"g":"n","r":0,"c":3,"v":0},{"g":"n","r":0,"c":4,"v":0},{"g":"n","r":0,"c":5,"v":0},{"g":"n","r":0,"c":6,"v":0},{"g":"n","r":0,"c":7,"v":0},
{"g":"n","r":1,"c":0,"v":0},{"g":"n","r":1,"c":1,"v":0},{"g":"n","r":1,"c":2,"v":0},{"g":"n","r":1,"c":3,"v":0},{"g":"n","r":1,"c":4,"v":0},{"g":"n","r":1,"c":5,"v":0},{"g":"n","r":1,"c":6,"v":0},{"g":"n","r":1,"c":7,"v":0},
{"g":"n","r":2,"c":0,"v":0},{"g":"n","r":2,"c":1,"v":0},{"g":"n","r":2,"c":2,"v":0},{"g":"n","r":2,"c":3,"v":0},{"g":"n","r":2,"c":4,"v":0},{"g":"n","r":2,"c":5,"v":0},{"g":"n","r":2,"c":6,"v":0},{"g":"n","r":2,"c":7,"v":0},
{"g":"n","r":3,"c":0,"v":0},{"g":"n","r":3,"c":1,"v":0},{"g":"n","r":3,"c":2,"v":0},{"g":"n","r":3,"c":3,"v":0},{"g":"n","r":3,"c":4,"v":0},{"g":"n","r":3,"c":5,"v":0},{"g":"n","r":3,"c":6,"v":0},{"g":"n","r":3,"c":7,"v":0},
{"g":"n","r":4,"c":0,"v":0},{"g":"n","r":4,"c":1,"v":0},{"g":"n","r":4,"c":2,"v":0},{"g":"n","r":4,"c":3,"v":0},{"g":"n","r":4,"c":4,"v":0},{"g":"n","r":4,"c":5,"v":0},{"g":"n","r":4,"c":6,"v":0},{"g":"n","r":4,"c":7,"v":0},
{"g":"n","r":5,"c":0,"v":0},{"g":"n","r":5,"c":1,"v":0},{"g":"n","r":5,"c":2,"v":0},{"g":"n","r":5,"c":3,"v":1},{"g":"n","r":5,"c":4,"v":0},{"g":"n","r":5,"c":5,"v":1},{"g":"n","r":5,"c":6,"v":1},{"g":"n","r":5,"c":7,"v":0},
{"g":"n","r":6,"c":0,"v":1},{"g":"n","r":6,"c":1,"v":1},{"g":"n","r":6,"c":2,"v":1},{"g":"n","r":6,"c":3,"v":1},{"g":"n","r":6,"c":4,"v":0},{"g":"n","r":6,"c":5,"v":0},{"g":"n","r":6,"c":6,"v":0},{"g":"n","r":6,"c":7,"v":1},
{"g":"n","r":7,"c":0,"v":1},{"g":"n","r":7,"c":1,"v":1},{"g":"n","r":7,"c":2,"v":1},{"g":"n","r":7,"c":3,"v":1},{"g":"n","r":7,"c":4,"v":0},{"g":"n","r":7,"c":5,"v":1},{"g":"n","r":7,"c":6,"v":0},{"g":"n","r":7,"c":7,"v":1},
{"g":"o","r":0,"c":0,"v":0},{"g":"o","r":0,"c":1,"v":0},{"g":"o","r":0,"c":2,"v":0},{"g":"o","r":0,"c":3,"v":0},{"g":"o","r":0,"c":4,"v":0},{"g":"o","r":0,"c":5,"v":0},{"g":"o","r":0,"c":6,"v":0},{"g":"o","r":0,"c":7,"v":0},
{"g":"o","r":1,"c":0,"v":0},{"g":"o","r":1,"c":1,"v":0},{"g":"o","r":1,"c":2,"v":0},{"g":"o","r":1,"c":3,"v":0},{"g":"o","r":1,"c":4,"v":0},{"g":"o","r":1,"c":5,"v":0},{"g":"o","r":1,"c":6,"v":0},{"g":"o","r":1,"c":7,"v":0},
{"g":"o","r":2,"c":0,"v":0},{"g":"o","r":2,"c":1,"v":1},{"g":"o","r":2,"c":2,"v":0},{"g":"o","r":2,"c":3,"v":0},{"g":"o","r":2,"c":4,"v":0},{"g":"o","r":2,"c":5,"v":0},{"g":"o","r":2,"c":6,"v":0},{"g":"o","r":2,"c":7,"v":0},
{"g":"o","r":3,"c":0,"v":0},{"g":"o","r":3,"c":1,"v":0},{"g":"o","r":3,"c":2,"v":0},{"g":"o","r":3,"c":3,"v":0},{"g":"o","r":3,"c":4,"v":0},{"g":"o","r":3,"c":5,"v":1},{"g":"o","r":3,"c":6,"v":0},{"g":"o","r":3,"c":7,"v":0},
{"g":"o","r":4,"c":0,"v":0},{"g":"o","r":4,"c":1,"v":0},{"g":"o","r":4,"c":2,"v":0},{"g":"o","r":4,"c":3,"v":0},{"g":"o","r":4,"c":4,"v":0},{"g":"o","r":4,"c":5,"v":1},{"g":"o","r":4,"c":6,"v":0},{"g":"o","r":4,"c":7,"v":0},
{"g":"o","r":5,"c":0,"v":0},{"g":"o","r":5,"c":1,"v":1},{"g":"o","r":5,"c":2,"v":0},{"g":"o","r":5,"c":3,"v":0},{"g":"o","r":5,"c":4,"v":0},{"g":"o","r":5,"c":5,"v":1},{"g":"o","r":5,"c":6,"v":0},{"g":"o","r":5,"c":7,"v":0},
{"g":"o","r":6,"c":0,"v":0},{"g":"o","r":6,"c":1,"v":0},{"g":"o","r":6,"c":2,"v":0},{"g":"o","r":6,"c":3,"v":0},{"g":"o","r":6,"c":4,"v":0},{"g":"o","r":6,"c":5,"v":1},{"g":"o","r":6,"c":6,"v":1},{"g":"o","r":6,"c":7,"v":0},
{"g":"o","r":7,"c":0,"v":1},{"g":"o","r":7,"c":1,"v":0},{"g":"o","r":7,"c":2,"v":0},{"g":"o","r":7,"c":3,"v":1},{"g":"o","r":7,"c":4,"v":0},{"g":"o","r":7,"c":5,"v":1},{"g":"o","r":7,"c":6,"v":1},{"g":"o","r":7,"c":7,"v":0},
{"g":"p","r":0,"c":0,"v":1},{"g":"p","r":0,"c":1,"v":0},{"g":"p","r":0,"c":2,"v":0},{"g":"p","r":0,"c":3,"v":1},{"g":"p","r":0,"c":4,"v":0},{"g":"p","r":0,"c":5,"v":0},{"g":"p","r":0,"c":6,"v":0},{"g":"p","r":0,"c":7,"v":0},
{"g":"p","r":1,"c":0,"v":1},{"g":"p","r":1,"c":1,"v":0},{"g":"p","r":1,"c":2,"v":0},{"g":"p","r":1,"c":3,"v":1},{"g":"p","r":1,"c":4,"v":0},{"g":"p","r":1,"c":5,"v":0},{"g":"p","r":1,"c":6,"v":0},{"g":"p","r":1,"c":7,"v":0},
{"g":"p","r":2,"c":0,"v":1},{"g":"p","r":2,"c":1,"v":0},{"g":"p","r":2,"c":2,"v":0},{"g":"p","r":2,"c":3,"v":1},{"g":"p","r":2,"c":4,"v":0},{"g":"p","r":2,"c":5,"v":0},{"g":"p","r":2,"c":6,"v":0},{"g":"p","r":2,"c":7,"v":0},
{"g":"p","r":3,"c":0,"v":1},{"g":"p","r":3,"c":1,"v":0},{"g":"p","r":3,"c":2,"v":0},{"g":"p","r":3,"c":3,"v":1},{"g":"p","r":3,"c":4,"v":0},{"g":"p","r":3,"c":5,"v":0},{"g":"p","r":3,"c":6,"v":0},{"g":"p","r":3,"c":7,"v":0},
{"g":"p","r":4,"c":0,"v":1},{"g":"p","r":4,"c":1,"v":0},{"g":"p","r":4,"c":2,"v":0},{"g":"p","r":4,"c":3,"v":1},{"g":"p","r":4,"c":4,"v":0},{"g":"p","r":4,"c":5,"v":0},{"g":"p","r":4,"c":6,"v":0},{"g":"p","r":4,"c":7,"v":0},
{"g":"p","r":5,"c":0,"v":1},{"g":"p","r":5,"c":1,"v":0},{"g":"p","r":5,"c":2,"v":0},{"g":"p","r":5,"c":3,"v":1},{"g":"p","r":5,"c":4,"v":0},{"g":"p","r":5,"c":5,"v":0},{"g":"p","r":5,"c":6,"v":0},{"g":"p","r":5,"c":7,"v":0},
{"g":"p","r":6,"c":0,"v":0},{"g":"p","r":6,"c":1,"v":0},{"g":"p","r":6,"c":2,"v":0},{"g":"p","r":6,"c":3,"v":1},{"g":"p","r":6,"c":4,"v":1},{"g":"p","r":6,"c":5,"v":1},{"g":"p","r":6,"c":6,"v":1},{"g":"p","r":6,"c":7,"v":0},
{"g":"p","r":7,"c":0,"v":0},{"g":"p","r":7,"c":1,"v":0},{"g":"p","r":7,"c":2,"v":0},{"g":"p","r":7,"c":3,"v":1},{"g":"p","r":7,"c":4,"v":1},{"g":"p","r":7,"c":5,"v":1},{"g":"p","r":7,"c":6,"v":1},{"g":"p","r":7,"c":7,"v":0},
{"g":"q","r":0,"c":0,"v":0},{"g":"q","r":0,"c":1,"v":0},{"g":"q","r":0,"c":2,"v":0},{"g":"q","r":0,"c":3,"v":0},{"g":"q","r":0,"c":4,"v":0},{"g":"q","r":0,"c":5,"v":0},{"g":"q","r":0,"c":6,"v":0},{"g":"q","r":0,"c":7,"v":0},
{"g":"q","r":1,"c":0,"v":0},{"g":"q","r":1,"c":1,"v":0},{"g":"q","r":1,"c":2,"v":0},{"g":"q","r":1,"c":3,"v":0},{"g":"q","r":1,"c":4,"v":0},{"g":"q","r":1,"c":5,"v":0},{"g":"q","r":1,"c":6,"v":0},{"g":"q","r":1,"c":7,"v":0},
{"g":"q","r":2,"c":0,"v":0},{"g":"q","r":2,"c":1,"v":0},{"g":"q","r":2,"c":2,"v":0},{"g":"q","r":2,"c":3,"v":0},{"g":"q","r":2,"c":4,"v":0},{"g":"q","r":2,"c":5,"v":0},{"g":"q","r":2,"c":6,"v":0},{"g":"q","r":2,"c":7,"v":0},
{"g":"q","r":3,"c":0,"v":0},{"g":"q","r":3,"c":1,"v":0},{"g":"q","r":3,"c":2,"v":0},{"g":"q","r":3,"c":3,"v":0},{"g":"q","r":3,"c":4,"v":0},{"g":"q","r":3,"c":5,"v":0},{"g":"q","r":3,"c":6,"v":0},{"g":"q","r":3,"c":7,"v":0},
{"g":"q","r":4,"c":0,"v":0},{"g":"q","r":4,"c":1,"v":0},{"g":"q","r":4,"c":2,"v":0},{"g":"q","r":4,"c":3,"v":0},{"g":"q","r":4,"c":4,"v":0},{"g":"q","r":4,"c":5,"v":0},{"g":"q","r":4,"c":6,"v":0},{"g":"q","r":4,"c":7,"v":0},
{"g":"q","r":5,"c":0,"v":0},{"g":"q","r":5,"c":1,"v":0},{"g":"q","r":5,"c":2,"v":0},{"g":"q","r":5,"c":3,"v":0},{"g":"q","r":5,"c":4,"v":0},{"g":"q","r":5,"c":5,"v":0},{"g":"q","r":5,"c":6,"v":0},{"g":"q","r":5,"c":7,"v":0},
{"g":"q","r":6,"c":0,"v":0},{"g":"q","r":6,"c":1,"v":0},{"g":"q","r":6,"c":2,"v":0},{"g":"q","r":6,"c":3,"v":0},{"g":"q","r":6,"c":4,"v":0},{"g":"q","r":6,"c":5,"v":1},{"g":"q","r":6,"c":6,"v":0},{"g":"q","r":6,"c":7,"v":0},
{"g":"q","r":7,"c":0,"v":0},{"g":"q","r":7,"c":1,"v":0},{"g":"q","r":7,"c":2,"v":0},{"g":"q","r":7,"c":3,"v":0},{"g":"q","r":7,"c":4,"v":0},{"g":"q","r":7,"c":5,"v":1},{"g":"q","r":7,"c":6,"v":0},{"g":"q","r":7,"c":7,"v":0},
{"g":"r","r":0,"c":0,"v":1},{"g":"r","r":0,"c":1,"v":0},{"g":"r","r":0,"c":2,"v":0},{"g":"r","r":0,"c":3,"v":0},{"g":"r","r":0,"c":4,"v":0},{"g":"r","r":0,"c":5,"v":0},{"g":"r","r":0,"c":6,"v":0},{"g":"r","r":0,"c":7,"v":0},
{"g":"r","r":1,"c":0,"v":1},{"g":"r","r":1,"c":1,"v":1},{"g":"r","r":1,"c":2,"v":0},{"g":"r","r":1,"c":3,"v":1},{"g":"r","r":1,"c":4,"v":1},{"g":"r","r":1,"c":5,"v":1},{"g":"r","r":1,"c":6,"v":1},{"g":"r","r":1,"c":7,"v":1},
{"g":"r","r":2,"c":0,"v":1},{"g":"r","r":2,"c":1,"v":1},{"g":"r","r":2,"c":2,"v":0},{"g":"r","r":2,"c":3,"v":1},{"g":"r","r":2,"c":4,"v":1},{"g":"r","r":2,"c":5,"v":1},{"g":"r","r":2,"c":6,"v":1},{"g":"r","r":2,"c":7,"v":1},
{"g":"r","r":3,"c":0,"v":1},{"g":"r","r":3,"c":1,"v":1},{"g":"r","r":3,"c":2,"v":1},{"g":"r","r":3,"c":3,"v":1},{"g":"r","r":3,"c":4,"v":1},{"g":"r","r":3,"c":5,"v":1},{"g":"r","r":3,"c":6,"v":1},{"g":"r","r":3,"c":7,"v":1},
{"g":"r","r":4,"c":0,"v":1},{"g":"r","r":4,"c":1,"v":1},{"g":"r","r":4,"c":2,"v":1},{"g":"r","r":4,"c":3,"v":1},{"g":"r","r":4,"c":4,"v":1},{"g":"r","r":4,"c":5,"v":1},{"g":"r","r":4,"c":6,"v":1},{"g":"r","r":4,"c":7,"v":1},
{"g":"r","r":5,"c":0,"v":1},{"g":"r","r":5,"c":1,"v":1},{"g":"r","r":5,"c":2,"v":1},{"g":"r","r":5,"c":3,"v":1},{"g":"r","r":5,"c":4,"v":1},{"g":"r","r":5,"c":5,"v":1},{"g":"r","r":5,"c":6,"v":1},{"g":"r","r":5,"c":7,"v":1},
{"g":"r","r":6,"c":0,"v":1},{"g":"r","r":6,"c":1,"v":1},{"g":"r","r":6,"c":2,"v":1},{"g":"r","r":6,"c":3,"v":1},{"g":"r","r":6,"c":4,"v":1},{"g":"r","r":6,"c":5,"v":1},{"g":"r","r":6,"c":6,"v":1},{"g":"r","r":6,"c":7,"v":1},
{"g":"r","r":7,"c":0,"v":1},{"g":"r","r":7,"c":1,"v":1},{"g":"r","r":7,"c":2,"v":1},{"g":"r","r":7,"c":3,"v":1},{"g":"r","r":7,"c":4,"v":1},{"g":"r","r":7,"c":5,"v":1},{"g":"r","r":7,"c":6,"v":1},{"g":"r","r":7,"c":7,"v":1}
]
},
"hconcat": [
{
"spacing": 23,
"vconcat": [
{
"data": {"name": "cells"},
"transform": [
{"lookup": "g", "from": {"data": {"name": "panels"}, "key": "g", "fields": ["side", "key"]}},
{"filter": "datum.side === 'A'"}
],
"facet": {"field": "key", "type": "nominal", "sort": "ascending",
"header": {"title": null, "labelOrient": "bottom", "labelExpr": "split(datum.value, '|')[1]", "labelFont": "Liberation Sans", "labelFontSize": 23, "labelColor": "#1a1a1a", "labelPadding": 2}},
"columns": 3,
"spacing": {"row": 18, "column": 13},
"spec": {
"width": 157, "height": 157,
"mark": {"type": "circle", "size": 290, "stroke": "black", "strokeWidth": 1.8, "opacity": 1, "fillOpacity": 1},
"encoding": {
"x": {"field": "c", "type": "quantitative", "scale": {"domain": [-0.5, 7.5], "nice": false, "zero": false}, "axis": null},
"y": {"field": "r", "type": "quantitative", "scale": {"domain": [-0.5, 7.5], "nice": false, "zero": false, "reverse": true}, "axis": null},
"fill": {"field": "v", "type": "nominal", "scale": {"domain": [0, 1], "range": ["white", "black"]}, "legend": null}
}
}
},
{
"data": {"name": "notes"},
"transform": [{"filter": "datum.side === 'A'"}],
"width": 509, "height": 70,
"encoding": {"y": {"field": "line", "type": "ordinal", "axis": null}, "text": {"field": "t"}},
"layer": [
{"transform": [{"filter": "datum.part === 'b'"}], "mark": {"type": "text", "align": "right", "baseline": "middle", "font": "Liberation Sans", "fontSize": 30, "fontWeight": "bold", "color": "#1a1a1a", "dx": -86}},
{"transform": [{"filter": "datum.part === 'n'"}], "mark": {"type": "text", "align": "left", "baseline": "middle", "font": "Liberation Sans", "fontSize": 30, "color": "#1a1a1a", "dx": -78}},
{"transform": [{"filter": "datum.part === 'c'"}], "mark": {"type": "text", "align": "center", "baseline": "middle", "font": "Liberation Sans", "fontSize": 30, "color": "#1a1a1a", "dx": 4}}
]
}
]
},
{
"spacing": 23,
"vconcat": [
{
"data": {"name": "cells"},
"transform": [
{"lookup": "g", "from": {"data": {"name": "panels"}, "key": "g", "fields": ["side", "key"]}},
{"filter": "datum.side === 'M'"}
],
"facet": {"field": "key", "type": "nominal", "sort": "ascending",
"header": {"title": null, "labelOrient": "bottom", "labelExpr": "split(datum.value, '|')[1]", "labelFont": "Liberation Sans", "labelFontSize": 23, "labelColor": "#1a1a1a", "labelPadding": 2}},
"columns": 3,
"spacing": {"row": 18, "column": 13},
"spec": {
"width": 157, "height": 157,
"mark": {"type": "circle", "size": 290, "stroke": "black", "strokeWidth": 1.8, "opacity": 1, "fillOpacity": 1},
"encoding": {
"x": {"field": "c", "type": "quantitative", "scale": {"domain": [-0.5, 7.5], "nice": false, "zero": false}, "axis": null},
"y": {"field": "r", "type": "quantitative", "scale": {"domain": [-0.5, 7.5], "nice": false, "zero": false, "reverse": true}, "axis": null},
"fill": {"field": "v", "type": "nominal", "scale": {"domain": [0, 1], "range": ["white", "black"]}, "legend": null}
}
}
},
{
"data": {"name": "notes"},
"transform": [{"filter": "datum.side === 'M'"}],
"width": 509, "height": 70,
"encoding": {"y": {"field": "line", "type": "ordinal", "axis": null}, "text": {"field": "t"}},
"layer": [
{"transform": [{"filter": "datum.part === 'b'"}], "mark": {"type": "text", "align": "right", "baseline": "middle", "font": "Liberation Sans", "fontSize": 30, "fontWeight": "bold", "color": "#1a1a1a", "dx": -87}},
{"transform": [{"filter": "datum.part === 'n'"}], "mark": {"type": "text", "align": "left", "baseline": "middle", "font": "Liberation Sans", "fontSize": 30, "color": "#1a1a1a", "dx": -79}},
{"transform": [{"filter": "datum.part === 'c'"}], "mark": {"type": "text", "align": "center", "baseline": "middle", "font": "Liberation Sans", "fontSize": 30, "color": "#1a1a1a", "dx": 6}}
]
}
]
}
]
}
